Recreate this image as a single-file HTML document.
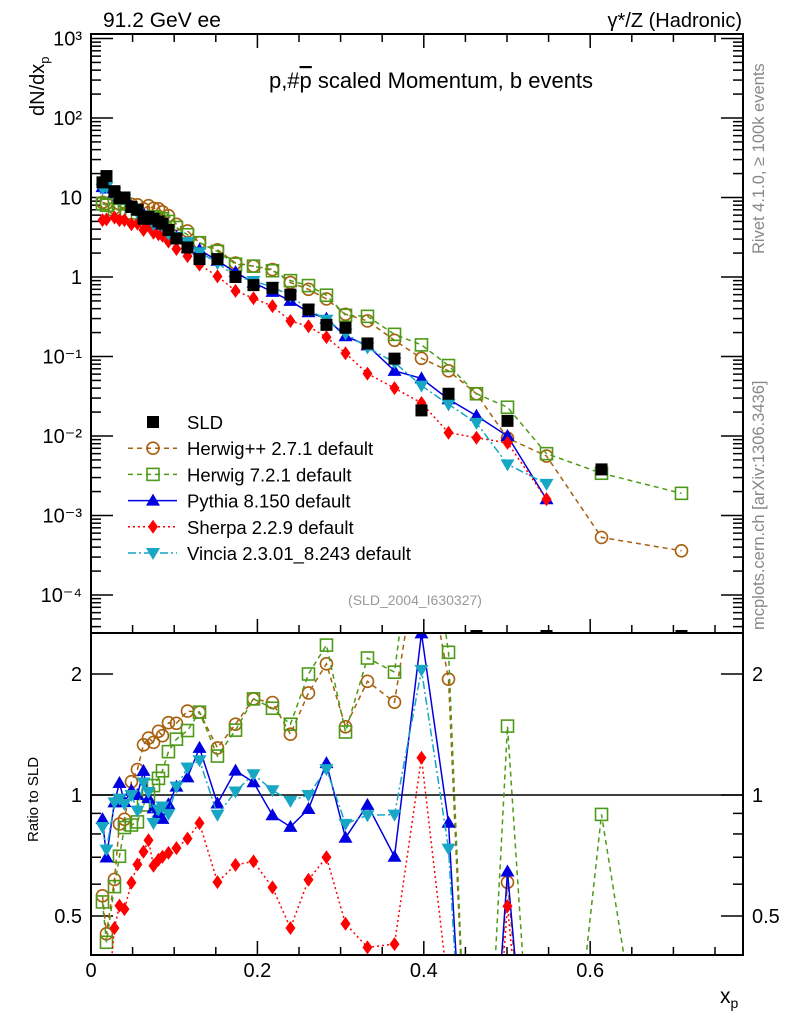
<!DOCTYPE html>
<html><head><meta charset="utf-8"><style>
html,body{margin:0;padding:0;background:#fff;width:786px;height:1024px;overflow:hidden;}
svg{display:block;font-family:"Liberation Sans",sans-serif;overflow:hidden;}
</style></head><body>
<svg id="chart" width="786" height="1024" viewBox="0 0 786 1024">
<defs>
<clipPath id="clipMain"><rect x="91" y="34" width="652" height="599"/></clipPath>
<clipPath id="clipRatio"><rect x="91" y="633" width="652" height="322"/></clipPath>
</defs>
<g id="axes"></g>
<g id="series-main" clip-path="url(#clipMain)"></g>
<g id="series-ratio" clip-path="url(#clipRatio)"></g>
<rect x="91" y="34" width="652" height="599" fill="none" stroke="#000" stroke-width="2"/>
<rect x="91" y="633" width="652" height="322" fill="none" stroke="#000" stroke-width="2"/>
<text x="103" y="27" font-size="21">91.2 GeV ee</text>
<text x="742" y="27" font-size="20" text-anchor="end">γ*/Z (Hadronic)</text>
<text x="431" y="88" font-size="22" text-anchor="middle">p,#<tspan text-decoration="overline">p</tspan> scaled Momentum, b events</text>
<text x="415" y="605" font-size="14" fill="#999" text-anchor="middle">(SLD_2004_I630327)</text>
<text transform="translate(44,116) rotate(-90)" font-size="20">dN/dx<tspan font-size="13" dy="5">p</tspan></text>
<text transform="translate(38,842) rotate(-90)" font-size="15">Ratio to SLD</text>
<text x="720" y="1003" font-size="21">x<tspan font-size="14" dy="5">p</tspan></text>
<text transform="translate(764,254) rotate(-90)" font-size="16.5" fill="#888">Rivet 4.1.0, ≥ 100k events</text>
<text transform="translate(764,630) rotate(-90)" font-size="16.5" fill="#888">mcplots.cern.ch [arXiv:1306.3436]</text>
<g id="legend"></g>
</svg>
<script>
const xBins=[0.0138,0.0186,0.0282,0.0342,0.0402,0.0486,0.0558,0.0631,0.0691,0.0751,0.0811,0.0859,0.0931,0.1027,0.1160,0.1304,0.1520,0.1737,0.1953,0.2181,0.2397,0.2614,0.2830,0.3059,0.3323,0.3648,0.3972,0.4297,0.4633,0.5006,0.5475,0.6136,0.7097];
const sldVals=[15.5,18.6,12.0,9.8,10,7.6,7.0,5.4,5.7,5.4,5.0,4.7,3.9,3.05,2.35,1.68,1.68,1.0,0.79,0.73,0.6,0.39,0.25,0.23,0.146,0.094,0.021,0.034,0,0.0155,0,0.0038,0];
const herwigppVals=[8.7,8.4,7.4,8.3,8.7,8.2,8.1,7.2,7.9,7.3,7.2,6.6,5.9,4.6,3.8,2.7,2.2,1.5,1.37,1.24,0.85,0.70,0.53,0.34,0.28,0.16,0.095,0.066,0.034,0.0094,0.0056,0.00053,0.00036];
const herwig7Vals=[8.4,8.0,7.1,6.9,8.3,6.4,6.0,5.1,5.7,5.7,5.5,5.4,5.0,4.2,3.4,2.7,2.1,1.45,1.37,1.2,0.9,0.78,0.59,0.33,0.32,0.19,0.14,0.077,0.034,0.023,0.006,0.0034,0.0019];
const pythiaVals=[13.5,13,11.5,10.5,9.6,7.8,7.0,6.2,5.6,5.0,4.5,4.1,3.7,3.2,2.6,2.2,1.6,1.15,0.85,0.65,0.5,0.36,0.30,0.18,0.138,0.066,0.053,0.029,0.018,0.010,0.0016,null,null];
const sherpaVals=[5.2,5.3,5.6,5.2,5.2,4.6,4.7,3.9,4.4,3.6,3.45,3.3,2.8,2.25,1.83,1.43,1.02,0.67,0.54,0.43,0.28,0.24,0.175,0.11,0.061,0.04,0.026,0.011,0.0095,0.0082,0.0016,null,null];
const vinciaVals=[12.9,13.6,11.5,9.6,9.5,7.6,6.4,5.8,5.8,4.6,4.6,4.4,3.5,3.2,2.75,2.05,1.5,1.02,0.89,0.75,0.58,0.39,0.29,0.195,0.13,0.084,0.043,0.025,0.0146,0.0044,0.0025,null,null];
const yTickLabels=["10³","10²","10","1","10⁻¹","10⁻²","10⁻³","10⁻⁴"];
const yTickExps=[3,2,1,0,-1,-2,-3,-4];
const xTickLabels=["0","0.2","0.4","0.6"];
const xTickVals=[0,0.2,0.4,0.6];
const ratioTickLabels=["0.5","1","2"];
const ratioTickVals=[0.5,1,2];

const NS="http://www.w3.org/2000/svg";
const X=v=>91+v*832;
const Y=v=>277-79.5*Math.log10(v);
const R=v=>795-121*Math.log2(v);
function mk(tag,attrs,parent){const e=document.createElementNS(NS,tag);for(const k in attrs)e.setAttribute(k,attrs[k]);parent.appendChild(e);return e;}
const axes=document.getElementById('axes');
for(let k=0;k<=15;k++){
  const v=k*0.05;
  const major=(k%4===0);
  const L=major?14:8;
  [[633,-1],[34,1],[955,-1]].forEach(([yy,d])=>{
    const t=mk('line',{x1:X(v),x2:X(v),y1:yy,y2:yy+d*L,stroke:'#000','stroke-width':1.5},axes);
    
    
  });
}
for(let e=-5;e<=3;e++){
  for(let m=1;m<10;m++){
    const v=m*Math.pow(10,e);const y=Y(v);
    if(y<34||y>633)continue;
    const L=m===1?22:10;
    [[91,1],[743,-1]].forEach(([xx,d])=>{
      const t=mk('line',{x1:xx,x2:xx+d*L,y1:y,y2:y,stroke:'#000','stroke-width':1.5},axes);
      
      
    });
  }
}
yTickExps.forEach((e,i)=>{
  const t=mk('text',{x:82,y:Y(Math.pow(10,e))+7,'font-size':20,'text-anchor':'end'},axes);
  t.textContent=yTickLabels[i];
  
  
});
xTickVals.forEach((v,i)=>{
  const t=mk('text',{x:X(v),y:977,'font-size':20,'text-anchor':'middle'},axes);
  t.textContent=xTickLabels[i];
  
  
});
[0.4,0.5,0.6,0.7,0.8,0.9,1,2].forEach(v=>{
  const y=R(v);const L=(v===0.5||v===1||v===2)?22:10;
  [[91,1],[743,-1]].forEach(([xx,d])=>{
    const t=mk('line',{x1:xx,x2:xx+d*L,y1:y,y2:y,stroke:'#000','stroke-width':1.5},axes);
    
    
  });
});
ratioTickVals.forEach((v,i)=>{
  [[82,'end'],[752,'start']].forEach(([xx,a])=>{
    const t=mk('text',{x:xx,y:R(v)+7,'font-size':20,'text-anchor':a},axes);
    t.textContent=ratioTickLabels[i];
    
    
  });
});
const unity=mk('line',{x1:91,x2:743,y1:R(1),y2:R(1),stroke:'#000','stroke-width':1.5},axes);



function marker(g,type,color,x,y){
  let e;
  if(type==='sq') e=mk('rect',{x:x-6,y:y-6,width:12,height:12,fill:'#000'},g);
  else if(type==='circ') e=mk('circle',{cx:x,cy:y,r:6,fill:'none',stroke:color,'stroke-width':1.6},g);
  else if(type==='osq') e=mk('rect',{x:x-6,y:y-6,width:12,height:12,fill:'none',stroke:color,'stroke-width':1.6},g);
  else if(type==='tri') e=mk('polygon',{points:`${x},${y-7} ${x-7},${y+5} ${x+7},${y+5}`,fill:color},g);
  else if(type==='itri') e=mk('polygon',{points:`${x},${y+7} ${x-7},${y-5} ${x+7},${y-5}`,fill:color},g);
  else if(type==='dia') e=mk('polygon',{points:`${x},${y-7} ${x-5},${y} ${x},${y+7} ${x+5},${y}`,fill:color},g);
  return e;
}
const series=[
 {name:'herwigpp',vals:herwigppVals,color:'#a8600f',dash:'5,4',m:'circ',label:'Herwig++ 2.7.1 default',w:1.5},
 {name:'herwig7',vals:herwig7Vals,color:'#4d9a18',dash:'5,4',m:'osq',label:'Herwig 7.2.1 default',w:1.5},
 {name:'pythia',vals:pythiaVals,color:'#0000e0',dash:'',m:'tri',label:'Pythia 8.150 default',w:1.5},
 {name:'sherpa',vals:sherpaVals,color:'#ff0000',dash:'2,3',m:'dia',label:'Sherpa 2.2.9 default',w:1.5},
 {name:'vincia',vals:vinciaVals,color:'#17a6c4',dash:'8,3,2,3',m:'itri',label:'Vincia 2.3.01_8.243 default',w:1.5}
];
const gm=document.getElementById('series-main'), gr=document.getElementById('series-ratio');
series.forEach(s=>{
  const g=mk('g',{},gm);
  
  
  const pts=[];s.vals.forEach((v,i)=>{if(v!=null&&v>0)pts.push([X(xBins[i]),Y(v)]);});
  const p=mk('polyline',{points:pts.map(q=>q.join(',')).join(' '),fill:'none',stroke:s.color,'stroke-width':s.w,'stroke-dasharray':s.dash},g);
  
  
  pts.forEach(q=>{const m=marker(g,s.m,s.color,q[0],q[1]);
    
    });
  const g2=mk('g',{},gr);
  
  
  const rp=[];s.vals.forEach((v,i)=>{if(v==null)return;const sv=sldVals[i];const r=(sv>0)?v/sv:0.05;rp.push([X(xBins[i]),R(Math.max(r,0.05))]);});
  const p2=mk('polyline',{points:rp.map(q=>q.join(',')).join(' '),fill:'none',stroke:s.color,'stroke-width':s.w,'stroke-dasharray':s.dash},g2);
  
  
  rp.forEach(q=>{const m=marker(g2,s.m,s.color,q[0],q[1]);
    
    });
});
const gs=mk('g',{},gm);


sldVals.forEach((v,i)=>{const y=v>0?Y(v):636;const m=marker(gs,'sq','#000',X(xBins[i]),y);
  
  });
const lg=document.getElementById('legend');


const ls=[{m:'sq',color:'#000',label:'SLD',dash:null}].concat(series);
ls.forEach((s,i)=>{
  const y=422+26.2*i;
  const g=mk('g',{},lg);
  
  
  if(s.dash!==null){mk('line',{x1:128,x2:177,y1:y,y2:y,stroke:s.color,'stroke-width':1.5,'stroke-dasharray':s.dash},g);}
  marker(g,s.m,s.color,153,y);
  const t=mk('text',{x:187,y:y+7,'font-size':18.5},g);t.textContent=s.label;
});
</script>
</body></html>
